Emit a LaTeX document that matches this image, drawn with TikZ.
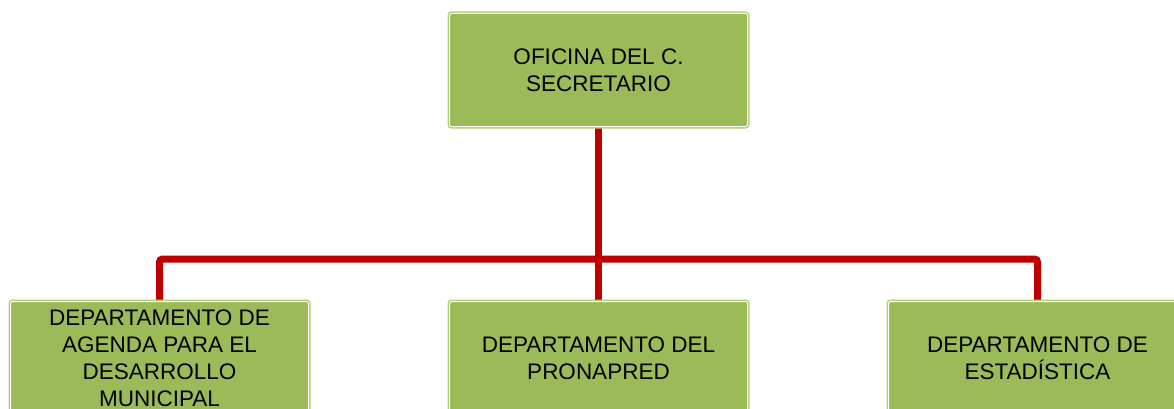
\documentclass[tikz,border=0pt]{standalone}
\usepackage{fontspec}
\setmainfont{Liberation Sans}
\usetikzlibrary{backgrounds}
\definecolor{boxgreen}{RGB}{155,187,89}
\definecolor{edgegreen}{RGB}{178,206,120}
\definecolor{connred}{RGB}{192,0,0}
\tikzset{
  orgbox/.style={rectangle, rounded corners=2pt, fill=boxgreen, draw=white, line width=1pt,
    preaction={draw=edgegreen, line width=4pt},
    minimum width=298pt, minimum height=113pt, anchor=north west, align=center,
    inner sep=0pt, font=\fontsize{22.5}{27}\selectfont, text=black},
  conn/.style={draw=connred, line width=7pt, rounded corners=3pt}
}
\begin{document}
\begin{tikzpicture}[x=1pt,y=-1pt]
\useasboundingbox (0,0) rectangle (1174,409);
\node[orgbox] (top) at (449,13) {OFICINA DEL C.\\SECRETARIO};
\node[orgbox] (left) at (10,301) {DEPARTAMENTO DE\\AGENDA PARA EL\\DESARROLLO\\MUNICIPAL};
\node[orgbox] (mid) at (449,301) {DEPARTAMENTO DEL\\PRONAPRED};
\node[orgbox] (right) at (888,301) {DEPARTAMENTO DE\\ESTAD\'ISTICA};
\coordinate (bus) at (597.5,259);
\begin{pgfonlayer}{background}
\draw[conn] (left.north) -- (left.north |- bus) -- (right.north |- bus) -- (right.north);
\draw[conn] (top.south) -- (mid.north);
\end{pgfonlayer}
\end{tikzpicture}
\end{document}
